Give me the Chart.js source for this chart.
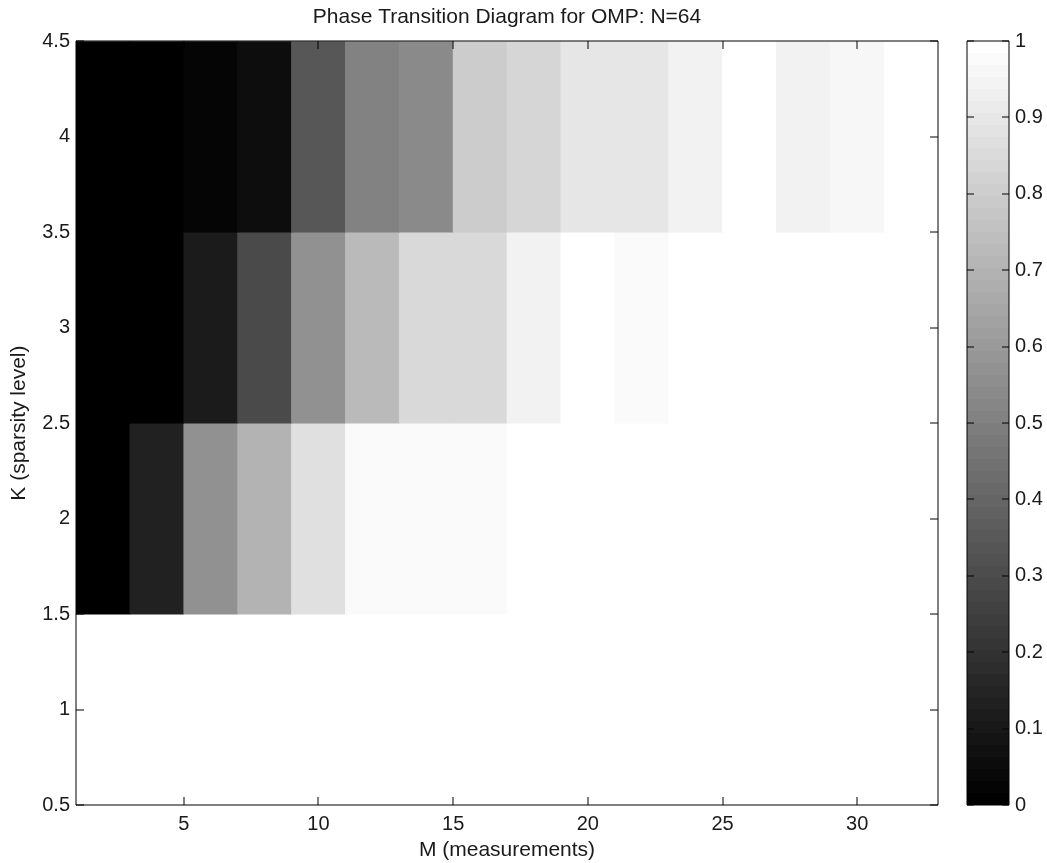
<!DOCTYPE html>
<html>
<head>
<meta charset="utf-8">
<script src="https://cdn.jsdelivr.net/npm/chart.js@4.4.0/dist/chart.umd.min.js"></script>
<style>
  html, body { margin: 0; padding: 0; background: #fff; }
  #wrap { position: relative; width: 1047px; height: 863px; }
  #main { position: absolute; left: 0; top: 0; }
  #cbar { position: absolute; left: 940px; top: 0; }
</style>
</head>
<body>
<div id="wrap">
  <canvas id="main" width="1047" height="863"></canvas>
  <canvas id="cbar" width="107" height="863"></canvas>
</div>
<script>
// cell centres: M (measurements) and K (sparsity level)
const mValues = [2, 4, 6, 8, 10, 12, 14, 16, 18, 20, 22, 24, 26, 28, 30, 32];
const kValues = [1, 2, 3, 4];

// success rate per cell, one array per K row
const successK1 = [1, 1, 1, 1, 1, 1, 1, 1, 1, 1, 1, 1, 1, 1, 1, 1];
const successK2 = [0, 0.13, 0.57, 0.70, 0.88, 0.98, 0.98, 0.98, 1, 1, 1, 1, 1, 1, 1, 1];
const successK3 = [0, 0, 0.105, 0.29, 0.57, 0.73, 0.85, 0.85, 0.95, 1, 0.98, 1, 1, 1, 1, 1];
const successK4 = [0, 0, 0.02, 0.05, 0.34, 0.51, 0.54, 0.80, 0.84, 0.90, 0.90, 0.95, 1, 0.95, 0.97, 1];

const xTicks = [5, 10, 15, 20, 25, 30];
const yTicks = [0.5, 1, 1.5, 2, 2.5, 3, 3.5, 4, 4.5];
const cbTicks = [0, 0.1, 0.2, 0.3, 0.4, 0.5, 0.6, 0.7, 0.8, 0.9, 1];

const FONT = 'Liberation Sans, Arial, Helvetica, sans-serif';
const TEXT = '#1a1a1a';

function grayColor(v) {
    const g = Math.round(v * 255);
    return `rgb(${g},${g},${g})`;
}

// build the cells from the arrays above
const rows = [successK1, successK2, successK3, successK4];
const cells = [];
const cellColors = [];
kValues.forEach((k, r) => {
    mValues.forEach((m, c) => {
        cells.push({ x: m, y: [k - 0.5, k + 0.5] });
        cellColors.push(grayColor(rows[r][c]));
    });
});

// matlab-ish box with inward ticks on every side
const boxPlugin = {
    id: 'matlabBox',
    afterDraw(chart, args, opts) {
        const { ctx, chartArea: a } = chart;
        const L = Math.round(a.left), R = Math.round(a.right);
        const T = Math.round(a.top), B = Math.round(a.bottom);
        const len = opts.tickLength || 8;
        ctx.save();
        ctx.strokeStyle = '#000';
        ctx.lineWidth = 1;
        ctx.beginPath();
        ctx.rect(L, T, R - L, B - T);
        Object.values(chart.scales).forEach(s => {
            if (!s.options.display) return;
            s.ticks.forEach((t, i) => {
                const p = Math.round(s.getPixelForTick(i));
                if (s.isHorizontal()) {
                    ctx.moveTo(p, B); ctx.lineTo(p, B - len);
                    ctx.moveTo(p, T); ctx.lineTo(p, T + len);
                } else {
                    ctx.moveTo(L, p); ctx.lineTo(L + len, p);
                    ctx.moveTo(R, p); ctx.lineTo(R - len, p);
                }
            });
        });
        ctx.stroke();
        ctx.restore();
    }
};

const noGrid = { display: false, drawTicks: false, tickLength: 0 };

new Chart(document.getElementById('main'), {
    type: 'bar',
    data: {
        datasets: [{
            data: cells,
            backgroundColor: cellColors,
            borderWidth: 0,
            barPercentage: 1,
            categoryPercentage: 1
        }]
    },
    options: {
        responsive: false,
        animation: false,
        layout: { padding: { left: 0, right: 109, top: 0, bottom: 0 } },
        plugins: {
            legend: { display: false },
            tooltip: { enabled: false },
            title: {
                display: true,
                fullSize: false,
                text: 'Phase Transition Diagram for OMP: N=64',
                color: TEXT,
                font: { family: FONT, size: 21, weight: 'normal' },
                padding: { top: 5, bottom: 11 }
            },
            matlabBox: { tickLength: 8 }
        },
        scales: {
            x: {
                type: 'linear',
                min: 1,
                max: 33,
                offset: false,
                grid: noGrid,
                border: { display: false },
                afterBuildTicks: s => { s.ticks = xTicks.map(v => ({ value: v })); },
                afterFit: s => { s.height = 58; },
                ticks: {
                    color: TEXT,
                    padding: 7,
                    maxRotation: 0,
                    font: { family: FONT, size: 20 },
                    callback: v => String(v)
                },
                title: {
                    display: true,
                    text: 'M (measurements)',
                    color: TEXT,
                    font: { family: FONT, size: 21 },
                    padding: { top: 0, bottom: 0 }
                }
            },
            y: {
                type: 'linear',
                min: 0.5,
                max: 4.5,
                grid: noGrid,
                border: { display: false },
                afterBuildTicks: s => { s.ticks = yTicks.map(v => ({ value: v })); },
                afterFit: s => { s.width = 76; },
                ticks: {
                    color: TEXT,
                    padding: 6,
                    font: { family: FONT, size: 20 },
                    callback: v => String(v)
                },
                title: {
                    display: true,
                    text: 'K (sparsity level)',
                    color: TEXT,
                    font: { family: FONT, size: 21 },
                    padding: { top: 7, bottom: 0 }
                }
            }
        }
    },
    plugins: [boxPlugin]
});

// colour bar, 64 gray levels like matlab's gray colormap
function colorbarFill(context) {
    const chart = context.chart;
    const a = chart.chartArea;
    if (!a) return '#808080';
    const grad = chart.ctx.createLinearGradient(0, a.bottom, 0, a.top);
    const n = 64;
    for (let i = 0; i < n; i++) {
        const c = grayColor(i / (n - 1));
        grad.addColorStop(i / n, c);
        grad.addColorStop((i + 1) / n, c);
    }
    return grad;
}

new Chart(document.getElementById('cbar'), {
    type: 'bar',
    data: {
        labels: ['level'],
        datasets: [{
            data: [[0, 1]],
            backgroundColor: colorbarFill,
            borderWidth: 0,
            barPercentage: 1,
            categoryPercentage: 1
        }]
    },
    options: {
        responsive: false,
        animation: false,
        layout: { padding: { left: 27, right: 0, top: 41, bottom: 58 } },
        plugins: {
            legend: { display: false },
            tooltip: { enabled: false },
            matlabBox: { tickLength: 7 }
        },
        scales: {
            x: { display: false },
            y: {
                position: 'right',
                min: 0,
                max: 1,
                grid: noGrid,
                border: { display: false },
                afterBuildTicks: s => { s.ticks = cbTicks.map(v => ({ value: v })); },
                afterFit: s => { s.width = 38; },
                ticks: {
                    color: TEXT,
                    padding: 6,
                    font: { family: FONT, size: 20 },
                    callback: v => String(v)
                }
            }
        }
    },
    plugins: [boxPlugin]
});
</script>
</body>
</html>
